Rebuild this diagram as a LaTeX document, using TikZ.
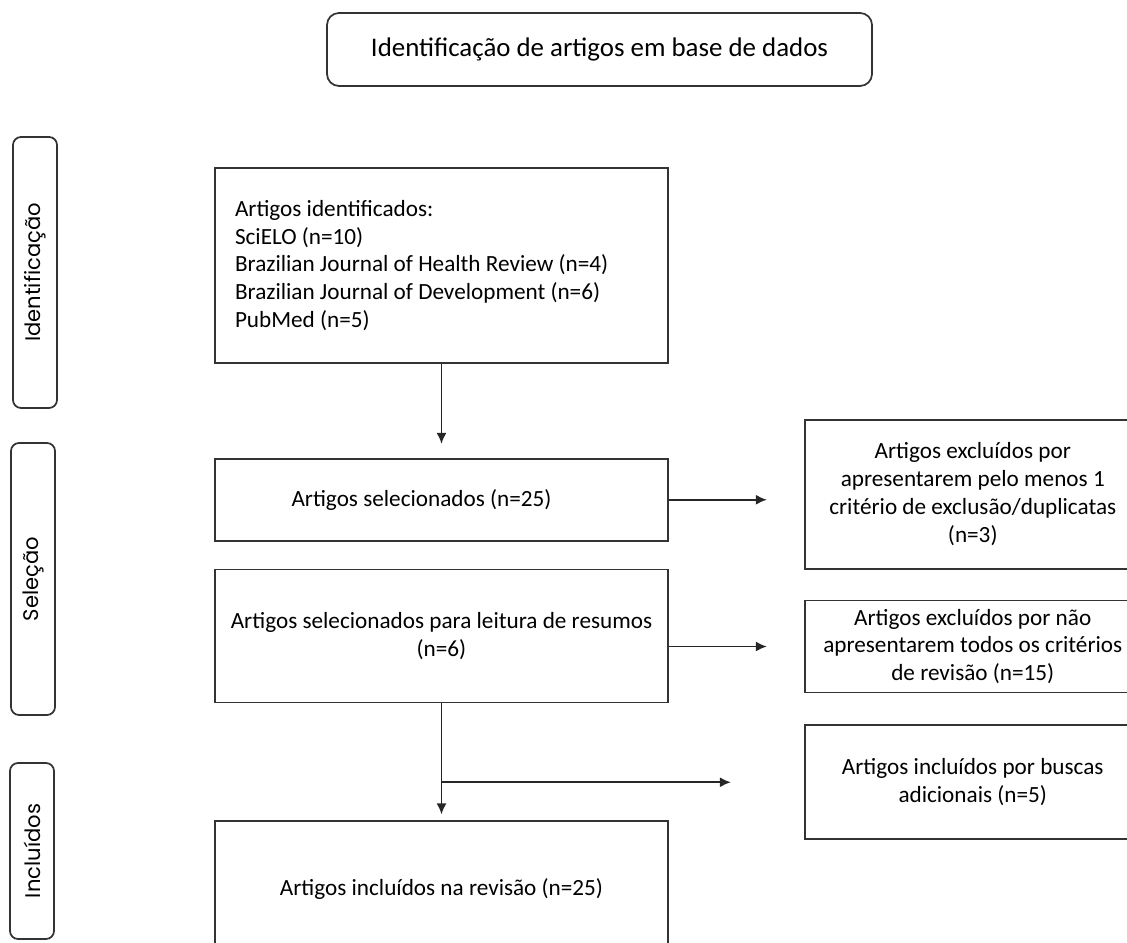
\documentclass[tikz,border=0pt]{standalone}
\usepackage{fontspec}
\setmainfont{Carlito}
\newfontfamily\sidefont{Poppins}
\usetikzlibrary{positioning, arrows.meta}

\tikzset{
  box/.style={rectangle, draw=black!80, line width=1pt, align=center, inner sep=0pt, minimum width=9.06cm},
  exbox/.style={rectangle, draw=black!80, line width=1pt, align=center, inner sep=0pt, minimum width=6.72cm},
  sidebox/.style={rectangle, rounded corners=0.16cm, draw=black!80, line width=1pt, rotate=90, inner sep=0pt, minimum height=0.88cm, font=\sidefont\fontsize{12}{14}\selectfont},
  link/.style={->, draw=black!85, line width=1pt}
}

\begin{document}
\begin{tikzpicture}[font=\fontsize{13.2}{15.9}\selectfont, >={Latex[length=0.22cm,width=0.2cm]}]
\useasboundingbox (0,0) rectangle (22.54,-18.86);
\clip (0,0) rectangle (22.54,-18.86);

\node[rectangle, rounded corners=0.24cm, draw=black!80, line width=1pt, minimum width=10.9cm, minimum height=1.46cm, font=\fontsize{15.3}{18}\selectfont] (base) at (11.99,-0.99) {Identificação de artigos em base de dados};

% fases
\node[sidebox, minimum width=5.42cm] (fase1) at (0.70,-5.45) {Identificação};
\node[sidebox, minimum width=5.44cm] (fase2) at (0.66,-11.58) {Seleção};
\node[sidebox, minimum width=3.52cm] (fase3) at (0.64,-17.02) {Incluídos};

% coluna principal
\node[box, align=flush left, text width=8.26cm, inner xsep=0.4cm, minimum height=3.9cm] (ident) at (8.83,-5.31) {Artigos identificados:\\ SciELO (n=10)\\ Brazilian Journal of Health Review (n=4)\\ Brazilian Journal of Development (n=6)\\ PubMed (n=5)};
\node[box, minimum height=1.64cm, below=1.88cm of ident] (selec) {Artigos selecionados (n=25)\hspace*{0.8cm}};
\node[box, minimum height=2.66cm, below=0.54cm of selec] (resumos) {Artigos selecionados para leitura de resumos\\ (n=6)};
\node[box, minimum height=2.72cm, below=2.34cm of resumos] (revisao) {Artigos incluídos na revisão (n=25)};

% coluna da direita
\node[exbox, minimum height=2.98cm, right=2.7cm of selec, yshift=0.11cm] (excl1) {Artigos excluídos por\\ apresentarem pelo menos 1\\ critério de exclusão/duplicatas\\ (n=3)};
\node[exbox, minimum height=1.84cm, right=2.7cm of resumos, yshift=-0.21cm] (excl2) {Artigos excluídos por não\\ apresentarem todos os critérios\\ de revisão (n=15)};
\node[exbox, minimum height=2.28cm, below=0.62cm of excl2] (adic) {Artigos incluídos por buscas\\ adicionais (n=5)};

\draw[link, shorten >=0.28cm] (ident) -- (selec);
\draw[link, shorten >=0.74cm] (selec.east) -- (selec.east -| excl1.west);
\draw[link, shorten >=0.74cm] (resumos.east |- excl2.west) -- (excl2.west);
\draw[link, shorten >=0.12cm] (resumos.south) -- (revisao.north);
\draw[link, shorten >=1.46cm] (resumos.south |- adic.west) -- (adic.west);
\end{tikzpicture}
\end{document}
